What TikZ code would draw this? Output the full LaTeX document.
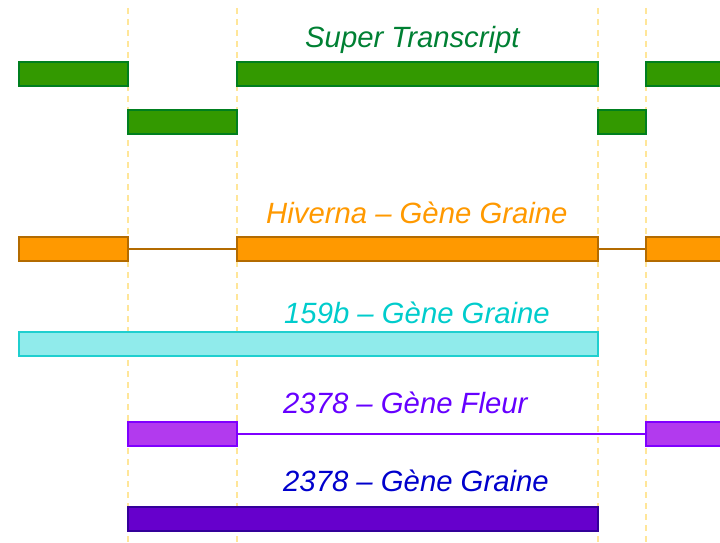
\documentclass[tikz,border=0pt]{standalone}
\usepackage{fontspec}
\setmainfont{Liberation Sans}
\begin{document}
\begin{tikzpicture}[x=1pt,y=-1pt,
  exon/.style={draw, line width=1.8pt, inner sep=0pt, outer sep=0pt, anchor=north west, minimum height=24pt},
  gex/.style={exon, fill=gfill, draw=gdraw},
  oex/.style={exon, fill=ofill, draw=odraw},
  cex/.style={exon, fill=cfill, draw=cdraw},
  pex/.style={exon, fill=pfill, draw=pdraw},
  dex/.style={exon, fill=dfill, draw=ddraw},
  title/.style={anchor=base west, inner sep=0pt, font=\fontsize{29.3}{31}\selectfont\itshape},
  guide/.style={draw=guidec, line width=1.5pt, dash pattern=on 6pt off 5pt}
]
\definecolor{gfill}{HTML}{339900}
\definecolor{gdraw}{HTML}{007F1F}
\definecolor{gtext}{HTML}{008033}
\definecolor{ofill}{HTML}{FF9900}
\definecolor{odraw}{HTML}{B36B00}
\definecolor{otext}{HTML}{FF9900}
\definecolor{cfill}{HTML}{90EBEB}
\definecolor{cdraw}{HTML}{1FCFCF}
\definecolor{ctext}{HTML}{00CCCC}
\definecolor{pfill}{HTML}{B23AEE}
\definecolor{pdraw}{HTML}{7F00FF}
\definecolor{ptext}{HTML}{6600FF}
\definecolor{dfill}{HTML}{6600CC}
\definecolor{ddraw}{HTML}{330099}
\definecolor{dtext}{HTML}{0000CC}
\definecolor{guidec}{HTML}{FFE699}
\useasboundingbox (0,0) rectangle (720,543);
% guide lines
\coordinate (g1t) at (128,8); \coordinate (g1b) at (128,543);
\coordinate (g2t) at (237,8); \coordinate (g2b) at (237,543);
\coordinate (g3t) at (598,8); \coordinate (g3b) at (598,543);
\coordinate (g4t) at (646,8); \coordinate (g4b) at (646,543);
\draw[guide] (g1t) -- (g1b);
\draw[guide] (g2t) -- (g2b);
\draw[guide] (g3t) -- (g3b);
\draw[guide] (g4t) -- (g4b);
% Super transcript
\node[title, text=gtext] (t1) at (305,48) {Super Transcript};
\node[gex, minimum width=109pt] (s1) at (19,62) {};
\node[gex, minimum width=361pt] (s2) at (237,62) {};
\node[gex, minimum width=80pt] (s3) at (646,62) {};
\node[gex, minimum width=109pt] (s4) at (128,110) {};
\node[gex, minimum width=48pt] (s5) at (598,110) {};
% Hiverna
\node[title, text=otext] (t2) at (266,223) {Hiverna – Gène Graine};
\node[oex, minimum width=109pt] (h1) at (19,237) {};
\node[oex, minimum width=361pt] (h2) at (237,237) {};
\node[oex, minimum width=80pt] (h3) at (646,237) {};
\draw[odraw, line width=2pt] (h1.east) -- (h2.west);
\draw[odraw, line width=2pt] (h2.east) -- (h3.west);
% 159b
\node[title, text=ctext] (t3) at (284,323) {159b – Gène Graine};
\node[cex, minimum width=579pt] (c1) at (19,332) {};
% 2378 Fleur
\node[title, text=ptext] (t4) at (283,413) {2378 – Gène Fleur};
\node[pex, minimum width=109pt] (p1) at (128,422) {};
\node[pex, minimum width=80pt] (p2) at (646,422) {};
\draw[pdraw, line width=2.5pt] (p1.east) -- (p2.west);
% 2378 Graine
\node[title, text=dtext] (t5) at (283,491) {2378 – Gène Graine};
\node[dex, minimum width=470pt] (d1) at (128,507) {};
\end{tikzpicture}
\end{document}
